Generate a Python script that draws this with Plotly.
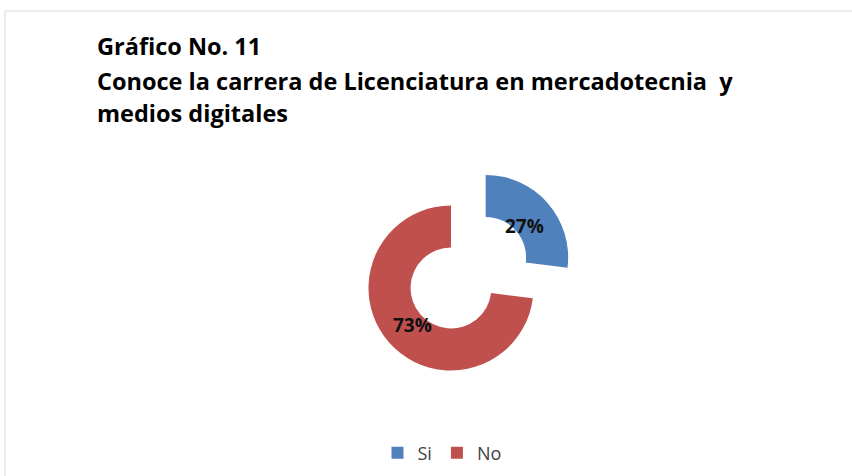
import math
import plotly.graph_objects as go

labels = ["Si", "No"]
values = [27, 73]
colors = ["#4F81BD", "#C0504D"]
pulls = [0.56, 0]
title_lines = ["Gráfico No. 11",
               "Conoce la carrera de Licenciatura en mercadotecnia  y",
               "medios digitales"]

W, H = 852, 476
CX, CY, R = 451, 288, 82.5        # pie centre and radius in pixels
HOLE = 0.49
half = R * (1 + max(pulls))
domx = [(CX - half) / W, (CX + half) / W]
domy = [1 - (CY + half) / H, 1 - (CY - half) / H]

fig = go.Figure()
fig.add_trace(go.Pie(
    labels=labels, values=values,
    marker=dict(colors=colors, line=dict(width=0)),
    hole=HOLE, sort=False, direction="clockwise", rotation=0,
    pull=pulls, textinfo="none",
    domain=dict(x=domx, y=domy),
    hoverinfo="label+percent",
))

# percentage labels placed along each slice's bisector
total = sum(values)
cum = 0
for v, p in zip(values, pulls):
    frac = v / total
    ang = 2 * math.pi * (cum + frac / 2)
    cum += frac
    r_lab = R * (p + 0.63)
    px = CX + r_lab * math.sin(ang)
    py = CY - r_lab * math.cos(ang) + 3
    fig.add_annotation(text=f"{round(frac * 100)}%", xref="paper", yref="paper",
                       x=px / W, y=1 - py / H, showarrow=False,
                       xanchor="center", yanchor="middle",
                       font=dict(family="Open Sans", size=19, color="#111111", weight="bold"))

ys = [46, 81, 113]
for t, y in zip(title_lines, ys):
    fig.add_annotation(text=t, xref="paper", yref="paper", x=95 / W, y=1 - y / H,
                       xanchor="left", yanchor="middle", showarrow=False,
                       font=dict(family="Open Sans", size=23.5, color="black", weight="bold"))

fig.add_shape(type="rect", xref="paper", yref="paper",
              x0=5 / W, x1=1.02, y0=-0.02, y1=1 - 11 / H,
              line=dict(color="#D9D9D9", width=1))

fig.update_layout(
    width=W, height=H, margin=dict(l=0, r=0, t=0, b=0),
    paper_bgcolor="white", plot_bgcolor="white",
    showlegend=True,
    legend=dict(orientation="h", x=442 / W, xanchor="center", y=1 - 453 / H, yanchor="middle",
                font=dict(family="Open Sans", size=18, color="#404040"),
                itemwidth=30),
)

fig.write_html("out.html", config={"displayModeBar": False},
               post_script="document.body.style.margin='0';")
